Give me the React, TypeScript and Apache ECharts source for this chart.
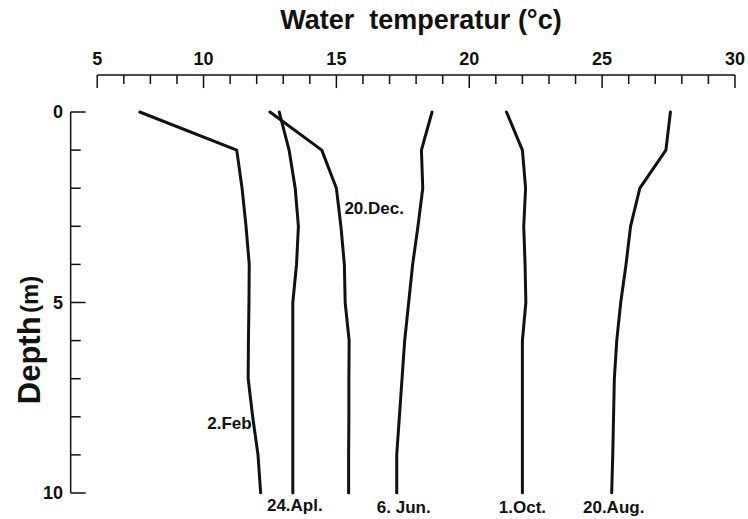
import React, { useEffect, useRef } from "react";
import * as echarts from "echarts";

// Depth (m) at which each temperature was read
const depths = [0, 1, 2, 3, 4, 5, 6, 7, 8, 9, 10];

// Water temperature (°C) profiles
const feb = [7.6, 11.25, 11.45, 11.6, 11.72, 11.71, 11.69, 11.68, 11.85, 12.05, 12.15];
const apl = [12.85, 13.22, 13.45, 13.57, 13.5, 13.36, 13.36, 13.36, 13.36, 13.36, 13.36];
const dec = [12.5, 14.45, 15.0, 15.17, 15.3, 15.33, 15.48, 15.47, 15.47, 15.46, 15.46];
const jun = [18.6, 18.2, 18.25, 18.07, 17.87, 17.72, 17.57, 17.47, 17.37, 17.27, 17.27];
const oct = [21.4, 22.0, 22.12, 22.05, 22.1, 22.13, 22.0, 22.0, 22.0, 22.0, 22.0];
const aug = [27.57, 27.4, 26.42, 26.07, 25.9, 25.7, 25.55, 25.46, 25.43, 25.4, 25.36];

const seriesNames = ["2.Feb", "24.Apl.", "20.Dec.", "6. Jun.", "1.Oct.", "20.Aug."];
const seriesValues = [feb, apl, dec, jun, oct, aug];
// index of the depth where each profile's name is written
const labelAt = [8, 10, 2, 10, 10, 10];

// Axis extents and ticks
const xStart = 6;
const xEnd = 30;
const yStart = 0;
const yEnd = 10;
const xAllTicks = [6, 7, 8, 9, 10, 11, 12, 13, 14, 15, 16, 17, 18, 19, 20, 21, 22, 23, 24, 25, 26, 27, 28, 29, 30];
const yAllTicks = [0, 1, 2, 3, 4, 5, 6, 7, 8, 9, 10];
const xTickValues = [6, 10, 15, 20, 25, 30];
const xTickLabels = ["5", "10", "15", "20", "25", "30"];
const yTickValues = [0, 5, 10];
const yTickLabels = ["0", "5", "10"];

// where the two drawn axes sit, in data units
const X_AXIS_DEPTH = -0.97;
const Y_AXIS_TEMP = 5;

const FONT = "'Liberation Sans', Arial, Helvetica, sans-serif";
const INK = "#111111";

const labelStyles: any[] = [
  { position: "left", distance: 1, offset: [0, 7] },
  { position: "bottom", distance: 4, offset: [2, 0] },
  { position: "right", distance: 8, offset: [0, 20] },
  { position: "bottom", distance: 6, offset: [7, 0] },
  { position: "bottom", distance: 6, offset: [0, 0] },
  { position: "bottom", distance: 6, offset: [2, 0] },
];

export default function App() {
  const ref = useRef<HTMLDivElement>(null);

  useEffect(() => {
    if (!ref.current) return;
    const chart = echarts.init(ref.current, null, { renderer: "svg" });

    const labelFont = { color: INK, fontSize: 17, fontWeight: "bold", fontFamily: FONT };
    const axisFont = { color: INK, fontSize: 18, fontWeight: "bold", fontFamily: FONT };

    const series: any[] = seriesNames.map((name, s) => {
      const vals = seriesValues[s];
      const i = labelAt[s];
      return {
        name,
        type: "line",
        xAxisIndex: 0,
        yAxisIndex: 0,
        showSymbol: false,
        silent: true,
        lineStyle: { color: INK, width: 3, join: "round", cap: "round" },
        data: depths.map((d, k) => [vals[k], d]),
        markPoint: {
          symbol: "circle",
          symbolSize: 0,
          silent: true,
          data: [
            {
              coord: [vals[i], depths[i]],
              label: { show: true, formatter: name, ...labelFont, ...labelStyles[s] },
            },
          ],
        },
      };
    });

    // Axis lines and ticks, drawn through the axes' own scales (api.coord)
    series.push({
      type: "custom",
      name: "axes",
      coordinateSystem: "cartesian2d",
      xAxisIndex: 0,
      yAxisIndex: 0,
      clip: false,
      silent: true,
      z: 3,
      data: [[xStart, yStart]],
      renderItem: (_params: any, api: any) => {
        const style = { stroke: INK, lineWidth: 1.5, fill: null };
        const a = api.coord([xStart, X_AXIS_DEPTH]);
        const b = api.coord([xEnd, X_AXIS_DEPTH]);
        const c = api.coord([Y_AXIS_TEMP, yStart]);
        const d = api.coord([Y_AXIS_TEMP, yEnd]);
        const axisY = a[1];
        const axisX = c[0];
        const children: any[] = [
          { type: "line", shape: { x1: a[0], y1: axisY, x2: b[0], y2: axisY }, style },
          { type: "line", shape: { x1: axisX, y1: c[1], x2: axisX, y2: d[1] }, style },
        ];
        xAllTicks.forEach((v) => {
          const p = api.coord([v, X_AXIS_DEPTH]);
          const len = xTickValues.includes(v) ? 13 : 9;
          children.push({ type: "line", shape: { x1: p[0], y1: axisY, x2: p[0], y2: axisY + len }, style });
        });
        yAllTicks.forEach((v) => {
          const p = api.coord([Y_AXIS_TEMP, v]);
          const len = yTickValues.includes(v) ? 15 : 10;
          children.push({ type: "line", shape: { x1: axisX, y1: p[1], x2: axisX + len, y2: p[1] }, style });
        });
        return { type: "group", children };
      },
    });

    chart.setOption({
      animation: false,
      backgroundColor: "#ffffff",
      grid: { left: 68, right: 11, top: 72, bottom: 26, containLabel: false },
      xAxis: {
        type: "value",
        position: "top",
        min: 4.9,
        max: xEnd,
        axisLine: { show: false, onZero: false },
        axisTick: { show: false },
        axisLabel: {
          show: true,
          customValues: xTickValues,
          margin: 4,
          formatter: (v: number) => xTickLabels[xTickValues.indexOf(v)] ?? "",
          ...axisFont,
        },
        splitLine: { show: false },
      },
      yAxis: {
        type: "value",
        position: "left",
        inverse: true,
        min: -1.05,
        max: yEnd,
        axisLine: { show: false, onZero: false },
        axisTick: { show: false },
        axisLabel: {
          show: true,
          customValues: yTickValues,
          margin: 5,
          formatter: (v: number) => yTickLabels[yTickValues.indexOf(v)] ?? "",
          ...axisFont,
        },
        splitLine: { show: false },
      },
      graphic: [
        {
          type: "text",
          x: 421,
          y: 20,
          silent: true,
          style: {
            text: "Water  temperatur (°c)",
            fill: INK,
            font: `bold 27px ${FONT}`,
            textAlign: "center",
            textVerticalAlign: "middle",
          },
        },
        {
          type: "text",
          x: 29,
          y: 340,
          rotation: Math.PI / 2,
          silent: true,
          style: {
            text: "{a|Depth} {b|(m)}",
            fill: INK,
            textAlign: "center",
            textVerticalAlign: "middle",
            rich: {
              a: { font: `bold 31px ${FONT}`, fill: INK },
              b: { font: `bold 24px ${FONT}`, fill: INK },
            },
          },
        },
      ],
      series,
    });

    return () => chart.dispose();
  }, []);

  return (
    <div
      ref={ref}
      style={{ position: "fixed", left: 0, top: 0, width: 748, height: 519, background: "#fff" }}
    />
  );
}
